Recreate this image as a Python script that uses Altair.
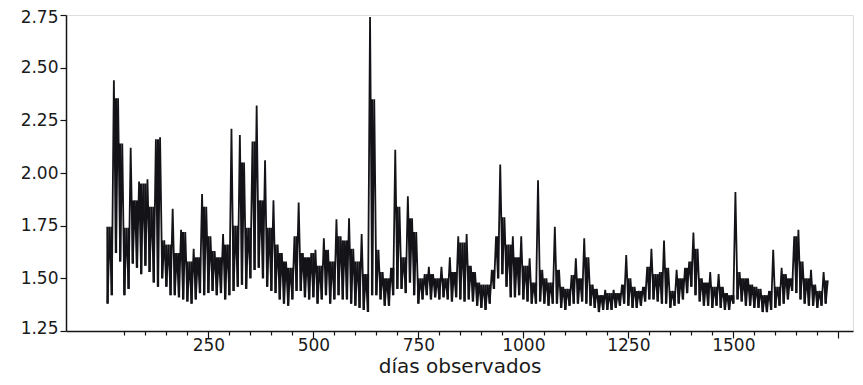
import altair as alt
import pandas as pd

# day index of each sample (every 10 observed days)
days = list(range(10, 1721, 10))

# upper envelope (peak within each 10-day window)
hi = [1.745, 2.44, 2.355, 2.14, 1.74, 2.12, 1.87, 1.96, 1.95, 1.97,
      1.84, 2.16, 2.17, 1.68, 1.66, 1.83, 1.62, 1.73, 1.72, 1.58,
      1.64, 1.60, 1.90, 1.84, 1.70, 1.63, 1.60, 1.71, 1.66, 2.21,
      1.75, 2.18, 2.05, 1.74, 2.15, 2.32, 1.87, 2.06, 1.74, 1.87,
      1.66, 1.62, 1.58, 1.55, 1.70, 1.86, 1.62, 1.60, 1.62, 1.635,
      1.56, 1.69, 1.635, 1.58, 1.78, 1.70, 1.68, 1.785, 1.64, 1.58,
      1.71, 1.52, 2.74, 2.35, 1.635, 1.53, 1.50, 1.55, 2.11, 1.84,
      1.60, 1.89, 1.785, 1.72, 1.50, 1.52, 1.555, 1.52, 1.50, 1.555,
      1.50, 1.60, 1.53, 1.70, 1.67, 1.71, 1.56, 1.53, 1.48, 1.47,
      1.47, 1.54, 1.70, 2.04, 1.79, 1.66, 1.70, 1.60, 1.70, 1.56,
      1.595, 1.48, 1.966, 1.54, 1.50, 1.48, 1.745, 1.54, 1.46, 1.45,
      1.516, 1.595, 1.50, 1.69, 1.60, 1.47, 1.45, 1.42, 1.445, 1.43,
      1.445, 1.43, 1.47, 1.61, 1.50, 1.46, 1.44, 1.46, 1.555, 1.64,
      1.52, 1.53, 1.68, 1.55, 1.44, 1.54, 1.50, 1.55, 1.58, 1.717,
      1.64, 1.50, 1.48, 1.53, 1.46, 1.52, 1.46, 1.43, 1.42, 1.91,
      1.53, 1.50, 1.50, 1.47, 1.46, 1.45, 1.42, 1.44, 1.635, 1.46,
      1.55, 1.52, 1.50, 1.70, 1.73, 1.58, 1.50, 1.54, 1.47, 1.44,
      1.53, 1.49]

# lower envelope (trough within each 10-day window)
lo = [1.38, 1.42, 1.62, 1.58, 1.42, 1.45, 1.57, 1.55, 1.52, 1.56,
      1.53, 1.48, 1.46, 1.50, 1.46, 1.42, 1.42, 1.41, 1.40, 1.39,
      1.38, 1.40, 1.43, 1.42, 1.43, 1.44, 1.42, 1.43, 1.40, 1.42,
      1.44, 1.46, 1.47, 1.45, 1.50, 1.54, 1.55, 1.50, 1.46, 1.44,
      1.43, 1.40, 1.38, 1.37, 1.40, 1.44, 1.44, 1.41, 1.40, 1.41,
      1.38, 1.40, 1.42, 1.38, 1.40, 1.42, 1.40, 1.40, 1.38, 1.37,
      1.36, 1.35, 1.34, 1.42, 1.42, 1.40, 1.37, 1.37, 1.42, 1.45,
      1.45, 1.43, 1.48, 1.42, 1.38, 1.40, 1.42, 1.40, 1.41, 1.40,
      1.41, 1.40, 1.39, 1.41, 1.40, 1.39, 1.40, 1.39, 1.37, 1.36,
      1.35, 1.38, 1.45, 1.50, 1.52, 1.46, 1.41, 1.41, 1.42, 1.40,
      1.39, 1.38, 1.38, 1.39, 1.38, 1.37, 1.38, 1.38, 1.36, 1.35,
      1.37, 1.38, 1.38, 1.39, 1.38, 1.37, 1.36, 1.34, 1.35, 1.35,
      1.35, 1.36, 1.37, 1.38, 1.37, 1.36, 1.36, 1.37, 1.39, 1.40,
      1.40, 1.39, 1.38, 1.38, 1.36, 1.37, 1.38, 1.40, 1.43, 1.46,
      1.42, 1.39, 1.37, 1.37, 1.36, 1.37, 1.36, 1.35, 1.35, 1.38,
      1.40, 1.39, 1.37, 1.37, 1.36, 1.36, 1.34, 1.34, 1.35, 1.36,
      1.37, 1.38, 1.40, 1.44, 1.43, 1.40, 1.38, 1.37, 1.37, 1.36,
      1.37, 1.38]

y_ticks = [1.25, 1.50, 1.75, 2.00, 2.25, 2.50, 2.75]
x_ticks = list(range(50, 1751, 50))

# zig-zag between each window's trough and peak
rows = []
for d, h, l in zip(days, hi, lo):
    rows.append({"dia": d, "valor": l})
    rows.append({"dia": d + 5, "valor": h})
df = pd.DataFrame(rows)

# dense part of the band: from each trough up to the lower neighbouring peak
band = []
for i, (d, l) in enumerate(zip(days, lo)):
    top = hi[i] if i == 0 else min(hi[i - 1], hi[i])
    band.append({"dia": d, "valor": l, "top": top})
band_df = pd.DataFrame(band)

FONT = "DejaVu Sans"
INK = "#141418"

x_scale = alt.Scale(domain=[-89, 1785], nice=False, zero=False)
y_scale = alt.Scale(domain=[1.25, 2.75], nice=False, zero=False)

x_axis = alt.Axis(values=x_ticks,
                  labelExpr="(datum.value % 250 === 0 && datum.value <= 1500) ? datum.label : ''",
                  format="d",
                  tickSize=alt.condition("datum.value % 250 === 0", alt.value(7), alt.value(4)),
                  tickColor=INK, tickWidth=1.2,
                  domainColor=INK, domainWidth=1.5,
                  labelFont=FONT, labelFontSize=17, labelColor="#1a1a1a",
                  labelBaseline="alphabetic", labelPadding=12,
                  labelFlush=False, labelOverlap=False,
                  title="días observados", titleFont=FONT,
                  titleFontSize=20, titleFontWeight="normal",
                  titleColor="#1a1a1a", titleBaseline="alphabetic",
                  titleY=41, grid=False)
y_axis = alt.Axis(values=y_ticks, format=".2f",
                  tickSize=6, tickColor=INK, tickWidth=1.2,
                  domainColor=INK, domainWidth=1.5,
                  labelFont=FONT, labelFontSize=17, labelColor="#1a1a1a",
                  labelPadding=2, labelFlush=True, labelFlushOffset=6,
                  labelOverlap=False,
                  title=None, grid=False)

line = alt.Chart(df).mark_line(color=INK, strokeWidth=1.8).encode(
    x=alt.X("dia:Q", scale=x_scale, axis=x_axis),
    y=alt.Y("valor:Q", scale=y_scale, axis=y_axis),
)

fill = alt.Chart(band_df).mark_rule(color=INK, strokeWidth=2.4).encode(
    x=alt.X("dia:Q", scale=x_scale, axis=x_axis),
    y=alt.Y("valor:Q", scale=y_scale, axis=y_axis),
    y2="top:Q",
)

chart = alt.layer(fill, line).properties(
    width=787, height=316,
    autosize=alt.AutoSizeParams(type="none"),
    padding={"left": 58, "top": 7, "right": 2, "bottom": 46},
).configure_view(
    stroke=INK, strokeWidth=1.5
).configure(background="white")

chart.save("out.html", embed_options={"renderer": "svg", "actions": False})
